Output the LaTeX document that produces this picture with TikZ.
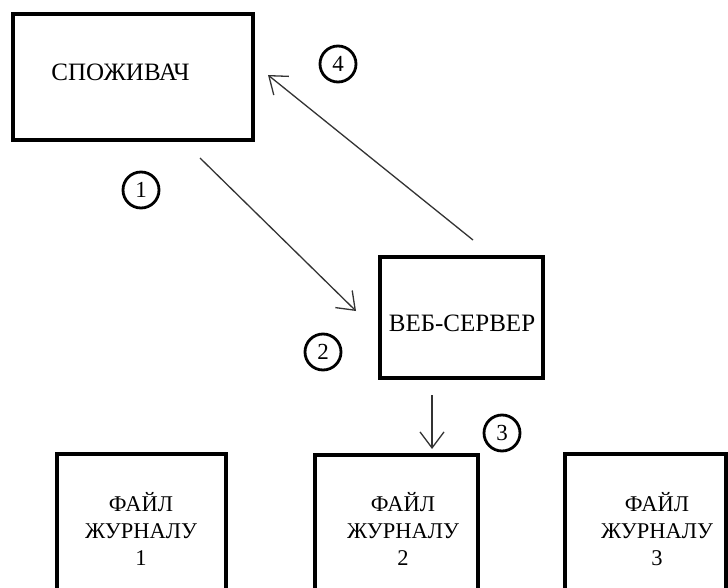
\documentclass[tikz,border=0pt]{standalone}
\usepackage{fontspec}
\setmainfont{Liberation Serif}
\usetikzlibrary{arrows.meta}
\tikzset{
  boxnode/.style={draw=black, line width=3.6pt, rectangle, inner sep=0pt},
  toplabel/.style={font=\fontsize{25}{28}\selectfont, inner sep=0pt},
  filelabel/.style={font=\fontsize{22.5}{27}\selectfont, align=center, inner sep=0pt},
  numcirc/.style={circle, draw=black, line width=2.8pt, minimum size=36pt, inner sep=0pt, font=\fontsize{23}{24}\selectfont},
  flow/.style={draw=black!80, line width=1.3pt, -{Straight Barb[length=16pt, width=24pt, line width=1.3pt]}}
}
\begin{document}
\begin{tikzpicture}[x=1pt, y=-1pt]
\useasboundingbox (0,0) rectangle (728,588);
\clip (0,0) rectangle (728,588);
\fill[white] (0,0) rectangle (728,588);
% boxes
\node[boxnode, minimum width=240pt, minimum height=126pt] (cons) at (133,77) {};
\node[toplabel] (consT) at (120.5,72) {СПОЖИВАЧ};
\node[boxnode, minimum width=163pt, minimum height=121pt] (web) at (461.5,317.5) {};
\node[toplabel] (webT) at (462,323.5) {ВЕБ-СЕРВЕР};
% file boxes (cut by lower edge)
\node[boxnode, minimum width=169pt, minimum height=160pt] (f1) at (141.5,534) {};
\node[boxnode, minimum width=163pt, minimum height=160pt] (f2) at (396.5,535) {};
\node[boxnode, minimum width=161pt, minimum height=160pt] (f3) at (645.5,534) {};
\node[filelabel] (f1T) at (141,529) {ФАЙЛ\\ЖУРНАЛУ\\1};
\node[filelabel] (f2T) at (403,529) {ФАЙЛ\\ЖУРНАЛУ\\2};
\node[filelabel] (f3T) at (657,529) {ФАЙЛ\\ЖУРНАЛУ\\3};
% numbered circles
\node[numcirc] (n1) at (141,190) {1};
\node[numcirc] (n2) at (323,352) {2};
\node[numcirc] (n3) at (502,433) {3};
\node[numcirc] (n4) at (338,64) {4};
% connector ends
\coordinate (a1s) at (200,158);
\coordinate (a1e) at (356,311);
\coordinate (a3s) at (432,395);
\coordinate (a3e) at (432,449);
\coordinate (a4s) at (473,240);
\coordinate (a4e) at (268,75);
\draw[flow] (a1s) -- (a1e);
\draw[flow] (a3s) -- (a3e);
\draw[flow] (a4s) -- (a4e);
\end{tikzpicture}
\end{document}
